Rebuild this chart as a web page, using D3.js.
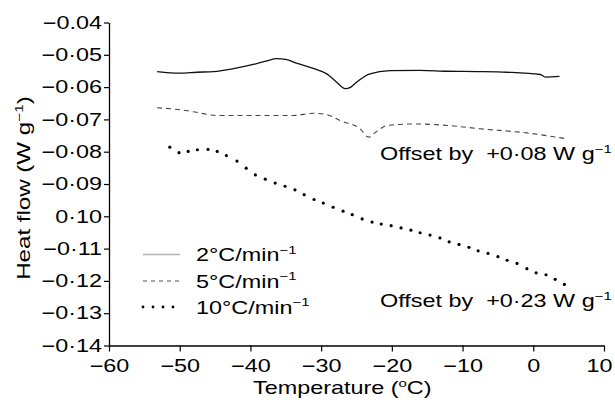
<!DOCTYPE html>
<html>
<head>
<meta charset="utf-8">
<script src="https://cdn.jsdelivr.net/npm/d3@7"></script>
<style>
  body { margin: 0; background: #fff; }
  svg { display: block; }
</style>
</head>
<body>
<svg id="chart" width="615" height="402"></svg>
<script>
// 2 C/min trace (as plotted, no offset)
const rate2Temp = [-53.2, -50.0, -47.6, -45.2, -42.4, -39.6, -37.7, -36.3, -35.0, -33.5, -31.0, -29.2, -27.8, -26.6, -25.8, -25.0, -23.1, -20.3, -16.0, -12.2, -8.0, -3.7, 1.0, 1.7, 3.7];
const rate2Flow = [-0.0552, -0.0557, -0.0554, -0.0552, -0.0543, -0.0530, -0.0519, -0.0512, -0.0514, -0.0526, -0.0543, -0.0559, -0.0585, -0.0605, -0.0600, -0.0585, -0.0559, -0.0549, -0.0548, -0.0551, -0.0552, -0.0554, -0.0561, -0.0569, -0.0567];

// 5 C/min trace (offset by +0.08 already applied)
const rate5Temp = [-53.2, -50.0, -47.6, -44.8, -40.5, -33.9, -31.1, -29.2, -27.3, -24.5, -23.3, -22.2, -20.7, -16.9, -12.0, -7.5, -0.5, 4.7];
const rate5Flow = [-0.0664, -0.0670, -0.0678, -0.0688, -0.0688, -0.0688, -0.0681, -0.0685, -0.0704, -0.0729, -0.0755, -0.0738, -0.0719, -0.0714, -0.0719, -0.0729, -0.0743, -0.0760];

// 10 C/min trace (offset by +0.23 already applied), one dot per reading
const rate10Temp = [-51.4, -50.1, -48.8, -47.5, -46.0, -44.7, -43.4, -41.9, -40.6, -39.3, -37.9, -36.5, -35.1, -33.7, -32.4, -31.0, -29.7, -28.3, -26.9, -25.6, -24.2, -22.8, -21.5, -20.1, -18.7, -17.3, -16.0, -14.6, -13.2, -11.9, -10.5, -9.1, -7.8, -6.4, -5.0, -3.7, -2.3, -0.9, 0.4, 1.8, 3.1, 4.4];
const rate10Flow = [-0.0786, -0.0803, -0.0799, -0.0794, -0.0793, -0.0799, -0.0812, -0.0829, -0.0851, -0.0872, -0.0885, -0.0897, -0.0907, -0.0918, -0.0933, -0.0948, -0.0959, -0.0972, -0.0984, -0.0995, -0.1008, -0.1018, -0.1024, -0.1029, -0.1036, -0.1043, -0.1051, -0.1058, -0.1067, -0.1079, -0.1087, -0.1096, -0.1107, -0.1115, -0.1125, -0.1136, -0.1146, -0.1162, -0.1175, -0.1181, -0.1195, -0.1211];

const xTicks = [-60, -50, -40, -30, -20, -10, 0, 10];
const xTickLabels = ['\u221260', '\u221250', '\u221240', '\u221230', '\u221220', '\u221210', '0', '10'];
const yTicks = [-0.04, -0.05, -0.06, -0.07, -0.08, -0.09, -0.10, -0.11, -0.12, -0.13, -0.14];
const yTickLabels = ['\u22120.04', '\u22120\u00b705', '\u22120\u00b706', '\u22120\u00b707', '\u22120\u00b708', '\u22120\u00b709', '0\u00b710', '\u22120\u00b711', '\u22120\u00b712', '\u22120\u00b713', '\u22120\u00b714'];
const legendLabels = ['2\u00b0C/min', '5\u00b0C/min', '10\u00b0C/min'];
const offsetLabels = ['Offset by  +0\u00b708 W g', 'Offset by  +0\u00b723 W g'];

const FONT = "'Liberation Sans', Arial, Helvetica, sans-serif";
const FS = 18;
const SX = 1.3; // the scanned type is set wide, so stretch it horizontally

const svg = d3.select('#chart');

const x = d3.scaleLinear().domain([-60, 10]).range([109, 604]);
const y = d3.scaleLinear().domain([-0.14, -0.04]).range([345.5, 22.5]);

// text placed at (tx, ty) and stretched along its run
const addText = (parent, tx, ty, sx, rot) => parent.append('text')
    .attr('transform', `translate(${tx},${ty})` + (rot ? ` rotate(${rot})` : '') + ` scale(${sx},1)`)
    .attr('font-family', FONT)
    .attr('font-size', FS)
    .attr('fill', '#000')
    .style('white-space', 'pre');

const sup = (t, s) => {
  t.append('tspan').attr('dy', -7.5).attr('font-size', 11.5).text(s);
};

// axes
const yAxis = svg.append('g')
    .attr('transform', `translate(${x(-60)},0)`)
    .call(d3.axisLeft(y)
      .tickValues(yTicks)
      .tickFormat((d, i) => yTickLabels[i])
      .tickSize(5)
      .tickSizeOuter(0)
      .tickPadding(2));

const xAxis = svg.append('g')
    .attr('transform', `translate(0,${y(-0.14)})`)
    .call(d3.axisBottom(x)
      .tickValues(xTicks)
      .tickFormat((d, i) => xTickLabels[i])
      .tickSize(6)
      .tickSizeOuter(0)
      .tickPadding(8));

[yAxis, xAxis].forEach(a => {
  a.select('.domain').attr('stroke', '#000').attr('stroke-width', 1.3);
  a.selectAll('.tick line').attr('stroke', '#000').attr('stroke-width', 1.2);
  a.selectAll('.tick text')
    .attr('fill', '#000')
    .attr('font-family', FONT)
    .attr('font-size', FS)
    .attr('transform', `scale(${SX},1)`);
});
yAxis.selectAll('.tick text').attr('x', -7 / SX);
// last label sits a little inside the frame edge
xAxis.selectAll('.tick text').filter(d => d === 10).attr('x', -5 / SX);

// axis titles
const xTitle = addText(svg, 253, 394, SX);
xTitle.append('tspan').text('Temperature (');
sup(xTitle, 'o');
xTitle.append('tspan').attr('dy', 7.5).text('C)');

const yTitle = addText(svg, 30, 188, 1.34, -90).attr('text-anchor', 'middle');
yTitle.append('tspan').text('Heat flow (W g');
sup(yTitle, '\u22121');
yTitle.append('tspan').attr('dy', 7.5).text(')');

// traces
const line = d3.line().x(d => x(d[0])).y(d => y(d[1])).curve(d3.curveMonotoneX);

svg.append('path')
    .datum(rate2Temp.map((t, i) => [t, rate2Flow[i]]))
    .attr('d', line)
    .attr('fill', 'none')
    .attr('stroke', '#111')
    .attr('stroke-width', 1.3);

svg.append('path')
    .datum(rate5Temp.map((t, i) => [t, rate5Flow[i]]))
    .attr('d', line)
    .attr('fill', 'none')
    .attr('stroke', '#444')
    .attr('stroke-width', 1.1)
    .attr('stroke-dasharray', '5,4');

svg.append('g').selectAll('circle')
    .data(rate10Temp.map((t, i) => [t, rate10Flow[i]]))
    .enter().append('circle')
    .attr('cx', d => x(d[0]))
    .attr('cy', d => y(d[1]))
    .attr('r', 1.6)
    .attr('fill', '#000');

// offset notes
[160, 307].forEach((by, i) => {
  const t = addText(svg, 380, by, SX);
  t.append('tspan').text(offsetLabels[i]);
  sup(t, '\u22121');
});

// legend
const legendY = [261, 287.5, 313.5];
const legend = svg.append('g');
legend.append('line')
    .attr('x1', 143).attr('x2', 180)
    .attr('y1', legendY[0] - 6.5).attr('y2', legendY[0] - 6.5)
    .attr('stroke', '#b3b3b3').attr('stroke-width', 1.3);
legend.append('line')
    .attr('x1', 143).attr('x2', 180)
    .attr('y1', legendY[1] - 6.5).attr('y2', legendY[1] - 6.5)
    .attr('stroke', '#555').attr('stroke-width', 1)
    .attr('stroke-dasharray', '4,4');
legend.append('g').selectAll('circle')
    .data([0, 1, 2, 3])
    .enter().append('circle')
    .attr('cx', d => 143 + d * 10)
    .attr('cy', legendY[2] - 6.5)
    .attr('r', 1.4)
    .attr('fill', '#000');

legendLabels.forEach((lab, i) => {
  const t = addText(legend, 196, legendY[i], SX);
  t.append('tspan').text(lab);
  sup(t, '\u22121');
});
</script>
</body>
</html>
